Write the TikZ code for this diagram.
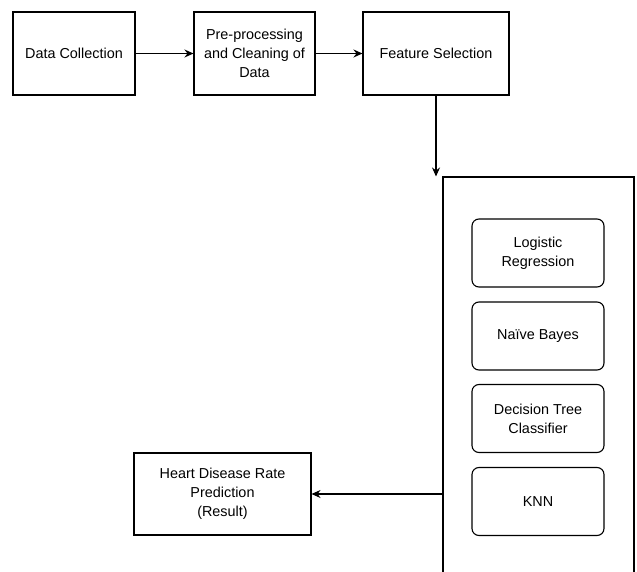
\documentclass[tikz,border=0pt]{standalone}
\usepackage{fontspec}
\setmainfont{Liberation Sans}
\usetikzlibrary{positioning,calc,arrows.meta}
\tikzset{>={Stealth[length=9pt,width=8pt,inset=3pt]}}
\tikzset{
  stage/.style={draw,line width=1.1pt,align=center,inner sep=2pt,
    font=\fontsize{14.4}{19}\selectfont},
  model/.style={stage,rounded corners=7pt,minimum width=132pt,minimum height=68pt},
  flow/.style={->,line width=1.1pt}
}

\begin{document}
\begin{tikzpicture}[x=1pt,y=-1pt]
\useasboundingbox (0,0) rectangle (637,572);
\clip (0,0) rectangle (637,572);
\node[stage,minimum width=122pt,minimum height=83pt] (collect) at (74,53.5) {Data Collection};
\node[stage,minimum width=121pt,minimum height=83pt] (prep) at (254.5,53.5) {Pre-processing\\and Cleaning of\\Data};
\node[stage,minimum width=146pt,minimum height=83pt] (feature) at (436,53.5) {Feature Selection};
\node[draw,line width=1.1pt,minimum width=191pt,minimum height=460pt] (models) at (538.5,407) {};
\node[model] (logit) at (538,253) {Logistic\\Regression};
\node[model] (bayes) at (538,336) {Naïve Bayes};
\node[model] (tree) at (538,418.5) {Decision Tree\\Classifier};
\node[model] (knn) at (538,501.5) {KNN};
\node[stage,minimum width=177pt,minimum height=82pt] (result) at (222.5,494) {Heart Disease Rate\\Prediction\\(Result)};
\draw[flow] (collect) -- (prep);
\draw[flow] (prep) -- (feature);
\draw[flow] (feature.south) -- (feature.south |- models.north);
\draw[flow] (result.east -| models.west) -- (result.east);
\end{tikzpicture}
\end{document}
